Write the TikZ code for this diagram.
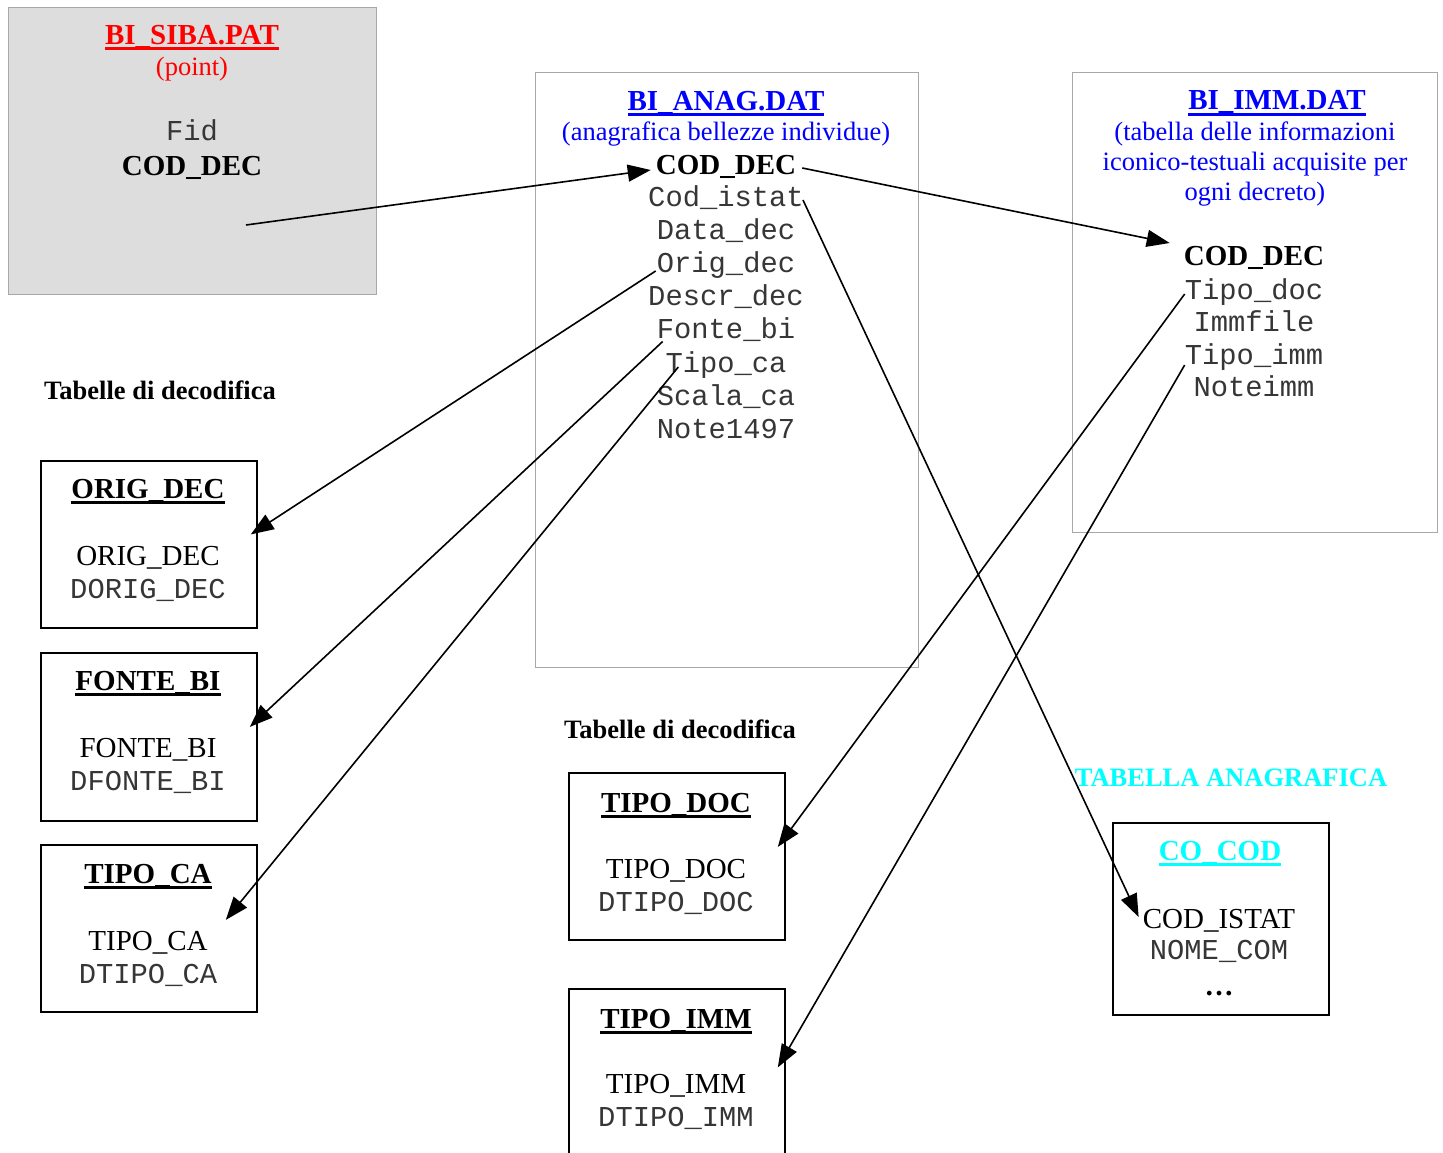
\documentclass[tikz,border=0pt]{standalone}
\usepackage{fontspec}
\setmainfont{Liberation Serif}
\setmonofont{Liberation Mono}
\newcommand\undl[1]{\setbox0\hbox{#1}\rlap{\rule[-6pt]{\wd0}{2.8pt}}\box0}
\usetikzlibrary{arrows.meta,calc}
\definecolor{sibafill}{HTML}{DDDDDD}
\definecolor{frame}{HTML}{A8A8A8}
\definecolor{hred}{HTML}{FF0000}
\definecolor{hblue}{HTML}{0000FF}
\definecolor{hcyan}{HTML}{00FFFF}
\definecolor{monogray}{HTML}{363636}
\begin{document}
\begin{tikzpicture}[x=1pt,y=-1pt,
  txt/.style={inner sep=0pt,anchor=base},
  ttl/.style={txt,font=\fontsize{29}{33}\selectfont\bfseries},
  sub/.style={txt,font=\fontsize{26.5}{30}\selectfont},
  fld/.style={txt,font=\fontsize{29}{33}\selectfont},
  bfld/.style={txt,font=\fontsize{29}{33}\selectfont\bfseries},
  mono/.style={txt,text=monogray,font=\fontsize{28.8}{33}\selectfont\ttfamily},
  lbl/.style={txt,font=\fontsize{26.5}{30}\selectfont\bfseries},
  topbox/.style={draw=frame,line width=1.3pt,rectangle,inner sep=0pt,anchor=north west},
  dbox/.style={draw=black,line width=1.8pt,rectangle,inner sep=0pt,anchor=north west},
  link/.style={line width=1.6pt,-{Triangle[length=23pt,width=17pt]}}]
\useasboundingbox[fill=white] (0,0) rectangle (1443,1152);

% ---- BI_SIBA.PAT
\node[topbox,fill=sibafill,minimum width=368pt,minimum height=287pt] (siba) at (8,7) {};
\node[ttl,text=hred] (sibat) at (192,44) {\undl{BI\_SIBA.PAT}};
\node[sub,text=hred] (sibas) at (192,75) {(point)};
\node[mono] (sibafid) at (192,140) {Fid};
\node[bfld] (sibacod) at (192,175.5) {COD\_DEC};
\coordinate (sibaout) at (246,225);

% ---- BI_ANAG.DAT
\node[topbox,minimum width=383pt,minimum height=595pt] (anag) at (535,72) {};
\node[ttl,text=hblue] (anagt) at (726,110) {\undl{BI\_ANAG.DAT}};
\node[sub,text=hblue] (anags) at (726,140) {(anagrafica bellezze individue)};
\node[bfld] (acod) at (726,174) {COD\_DEC};
\node[mono] (aistat) at (726,206) {Cod\_istat};
\node[mono] (adata) at (726,239) {Data\_dec};
\node[mono] (aorig) at (726,272) {Orig\_dec};
\node[mono] (adescr) at (726,305.5) {Descr\_dec};
\node[mono] (afonte) at (726,338.5) {Fonte\_bi};
\node[mono] (atipo) at (726,372) {Tipo\_ca};
\node[mono] (ascala) at (726,405) {Scala\_ca};
\node[mono] (anote) at (726,438) {Note1497};

% ---- BI_IMM.DAT
\node[topbox,minimum width=365pt,minimum height=460pt] (imm) at (1072,72) {};
\node[ttl,text=hblue] (immt) at (1277,109.5) {\undl{BI\_IMM.DAT}};
\node[sub,text=hblue] (imms1) at (1255,140) {(tabella delle informazioni};
\node[sub,text=hblue] (imms2) at (1255,170) {iconico-testuali acquisite per};
\node[sub,text=hblue] (imms3) at (1255,200) {ogni decreto)};
\node[bfld] (icod) at (1254,265) {COD\_DEC};
\node[mono] (itipodoc) at (1254,299) {Tipo\_doc};
\node[mono] (ifile) at (1254,331.5) {Immfile};
\node[mono] (itipoimm) at (1254,364) {Tipo\_imm};
\node[mono] (inote) at (1254,396.5) {Noteimm};

% ---- labels
\node[lbl] (lab1) at (160,399) {Tabelle di decodifica};
\node[lbl] (lab2) at (680,738) {Tabelle di decodifica};
\node[lbl,text=hcyan] (lab3) at (1231,786) {TABELLA ANAGRAFICA};

% ---- ORIG_DEC
\node[dbox,minimum width=216pt,minimum height=167pt] (origbox) at (40,460) {};
\node[ttl] (origt) at (148,498) {\undl{ORIG\_DEC}};
\node[fld] (origf) at (148,565) {ORIG\_DEC};
\node[mono] (origm) at (148,598) {DORIG\_DEC};

% ---- FONTE_BI
\node[dbox,minimum width=216pt,minimum height=168pt] (fontebox) at (40,652) {};
\node[ttl] (fontet) at (148,690) {\undl{FONTE\_BI}};
\node[fld] (fontef) at (148,757) {FONTE\_BI};
\node[mono] (fontem) at (148,790) {DFONTE\_BI};

% ---- TIPO_CA
\node[dbox,minimum width=216pt,minimum height=167pt] (tipocabox) at (40,844) {};
\node[ttl] (tipocat) at (148,883) {\undl{TIPO\_CA}};
\node[fld] (tipocaf) at (148,950) {TIPO\_CA};
\node[mono] (tipocam) at (148,983) {DTIPO\_CA};

% ---- TIPO_DOC
\node[dbox,minimum width=216pt,minimum height=167pt] (tipodocbox) at (568,772) {};
\node[ttl] (tipodoct) at (676,812) {\undl{TIPO\_DOC}};
\node[fld] (tipodocf) at (676,878) {TIPO\_DOC};
\node[mono] (tipodocm) at (676,911) {DTIPO\_DOC};

% ---- TIPO_IMM
\node[dbox,minimum width=216pt,minimum height=175pt] (tipoimmbox) at (568,988) {};
\node[ttl] (tipoimmt) at (676,1028) {\undl{TIPO\_IMM}};
\node[fld] (tipoimmf) at (676,1093) {TIPO\_IMM};
\node[mono] (tipoimmm) at (676,1126) {DTIPO\_IMM};

% ---- CO_COD
\node[dbox,minimum width=216pt,minimum height=192pt] (cocodbox) at (1112,822) {};
\node[ttl,text=hcyan] (cocodt) at (1220,860) {\undl{CO\_COD}};
\node[fld] (cocodf) at (1219,928) {COD\_ISTAT};
\node[mono] (cocodm) at (1219,959) {NOME\_COM};
\node[bfld] (cocodd) at (1219,995) {\dots};

% ---- connectors
\draw[link] (sibaout) -- ($(acod.base west)+(-5,-4)$);
\draw[link] ($(acod.base east)+(6,-6)$) -- ($(icod.base west)+(-14,-22)$);
\draw[link] ($(aistat.base east)+(-1,-6)$) -- ($(cocodf.base west)+(-4,-11)$);
\draw[link] ($(aorig.base west)+(-1,-1)$) -- ($(origbox.east)+(-7,-10)$);
\draw[link] ($(afonte.base west)+(6,3)$) -- ($(fontebox.east)+(-8,-10)$);
\draw[link] ($(atipo.base west)+(13,-5)$) -- ($(tipocabox.east)+(-32,-8.5)$);
\draw[link] ($(itipodoc.base west)+(0,-5)$) -- ($(tipodocbox.east)+(-8,-9.5)$);
\draw[link] ($(itipoimm.base west)+(0,1)$) -- ($(tipoimmbox.east)+(-8,-9)$);
\end{tikzpicture}
\end{document}
